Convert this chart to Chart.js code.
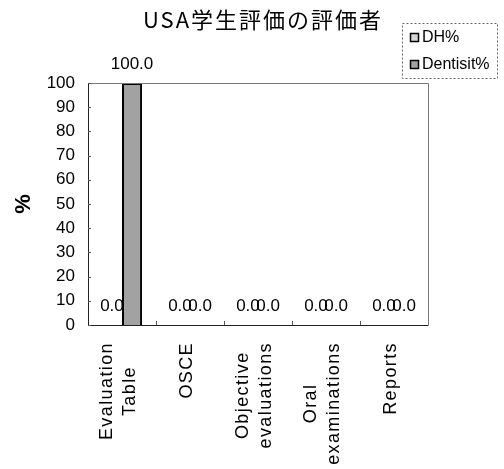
<!DOCTYPE html>
<html>
<head>
<meta charset="utf-8">
<script src="https://cdn.jsdelivr.net/npm/chart.js@4"></script>
<style>
  body { margin: 0; background: #fff; }
  #wrap { width: 504px; height: 469px; position: relative; }
</style>
</head>
<body>
<div id="wrap"><canvas id="chart" width="504" height="469"></canvas></div>
<script>
const chartTitle = 'USA学生評価の評価者';
const categories = [['Evaluation', 'Table'], 'OSCE', ['Objective', 'evaluations'], ['Oral', 'examinations'], 'Reports'];
const seriesNames = ['DH%', 'Dentisit%'];
const dhValues = [0.0, 0.0, 0.0, 0.0, 0.0];
const dentistValues = [100.0, 0.0, 0.0, 0.0, 0.0];
const yMin = 0, yMax = 100, yStep = 10;

const FONT = '"Liberation Sans", Arial, sans-serif';

// everything that chart.js does not draw the way excel did
const extras = {
    id: 'extras',
    afterDraw(chart) {
        const ctx = chart.ctx;
        const area = chart.chartArea;
        const x = chart.scales.x;
        const y = chart.scales.y;

        ctx.save();

        // plot frame
        ctx.lineWidth = 1;
        ctx.strokeStyle = '#777';
        ctx.beginPath();
        ctx.moveTo(area.left, area.top + 0.5);
        ctx.lineTo(area.right + 0.5, area.top + 0.5);
        ctx.lineTo(area.right + 0.5, area.bottom);
        ctx.stroke();
        ctx.strokeStyle = '#222';
        ctx.beginPath();
        ctx.moveTo(area.left + 0.5, area.top);
        ctx.lineTo(area.left + 0.5, area.bottom + 0.5);
        ctx.lineTo(area.right + 0.5, area.bottom + 0.5);
        ctx.stroke();

        // inner tick marks
        ctx.strokeStyle = '#555';
        ctx.beginPath();
        y.ticks.forEach((t, i) => {
            const py = Math.round(y.getPixelForTick(i)) + 0.5;
            ctx.moveTo(area.left, py);
            ctx.lineTo(area.left + 3, py);
        });
        for (let i = 1; i < categories.length; i++) {
            const px = Math.round((x.getPixelForTick(i - 1) + x.getPixelForTick(i)) / 2) + 0.5;
            ctx.moveTo(px, area.bottom);
            ctx.lineTo(px, area.bottom - 4);
        }
        ctx.stroke();

        // value labels
        ctx.fillStyle = '#000';
        ctx.font = '17px ' + FONT;
        ctx.textAlign = 'center';
        ctx.textBaseline = 'middle';
        chart.data.datasets.forEach((ds, di) => {
            chart.getDatasetMeta(di).data.forEach((bar, i) => {
                ctx.fillText(ds.data[i].toFixed(1), bar.x, bar.y - 19);
            });
        });

        // category labels, rotated, lines centred on each other
        ctx.font = '18px ' + FONT;
        ctx.letterSpacing = '1.4px';
        categories.forEach((c, i) => {
            const lines = Array.isArray(c) ? c : [c];
            const widest = Math.max(...lines.map(l => ctx.measureText(l).width));
            const cx = x.getPixelForTick(i) - 3;
            const cy = area.bottom + 17 + widest / 2;
            ctx.save();
            ctx.translate(cx, cy);
            ctx.rotate(-Math.PI / 2);
            lines.forEach((l, k) => {
                ctx.fillText(l, 0, (k - (lines.length - 1) / 2) * 23);
            });
            ctx.restore();
        });

        // title
        ctx.font = '22px "Noto Sans CJK JP", ' + FONT;
        ctx.letterSpacing = '2px';
        ctx.fillText(chartTitle, 263, 20);
        ctx.letterSpacing = '0px';

        // legend
        ctx.setLineDash([2, 2]);
        ctx.strokeStyle = '#666';
        ctx.lineWidth = 1;
        ctx.strokeRect(402.5, 23.5, 95, 55);
        ctx.setLineDash([]);
        ctx.font = '16px ' + FONT;
        ctx.textAlign = 'left';
        chart.data.datasets.forEach((ds, di) => {
            const ly = 33 + di * 27;
            ctx.fillStyle = ds.backgroundColor;
            ctx.fillRect(410, ly, 9, 9);
            ctx.strokeStyle = '#000';
            ctx.lineWidth = 1.5;
            ctx.strokeRect(410.5, ly + 0.5, 8, 8);
            ctx.fillStyle = '#000';
            ctx.fillText(ds.label, 422, ly + 5);
        });

        ctx.restore();
    }
};

const ctx = document.getElementById('chart').getContext('2d');
const myChart = new Chart(ctx, {
    type: 'bar',
    data: {
        labels: categories,
        datasets: [{
            label: seriesNames[0],
            data: dhValues,
            backgroundColor: '#d6d6d6',
            borderColor: '#000',
            borderWidth: 1.5
        }, {
            label: seriesNames[1],
            data: dentistValues,
            backgroundColor: '#a2a2a2',
            borderColor: '#000',
            borderWidth: 2
        }]
    },
    options: {
        responsive: false,
        animation: false,
        layout: { padding: { top: 83, right: 76, left: 0, bottom: 0 } },
        datasets: { bar: { categoryPercentage: 0.59, barPercentage: 1.0 } },
        plugins: {
            legend: { display: false },
            title: { display: false },
            tooltip: { enabled: false }
        },
        scales: {
            x: {
                grid: { display: false, drawTicks: false },
                border: { display: false },
                ticks: { display: false },
                afterFit: (s) => { s.height = 144; }
            },
            y: {
                min: yMin,
                max: yMax,
                grid: { display: false, drawTicks: false },
                border: { display: false },
                ticks: {
                    stepSize: yStep,
                    padding: 13,
                    color: '#000',
                    font: { family: FONT, size: 17 }
                },
                title: {
                    display: true,
                    text: '%',
                    color: '#000',
                    font: { family: FONT, size: 22, weight: 'bold' },
                    padding: { top: 11, bottom: 0 }
                },
                afterFit: (s) => { s.width = 88; }
            }
        }
    },
    plugins: [extras]
});
</script>
</body>
</html>
